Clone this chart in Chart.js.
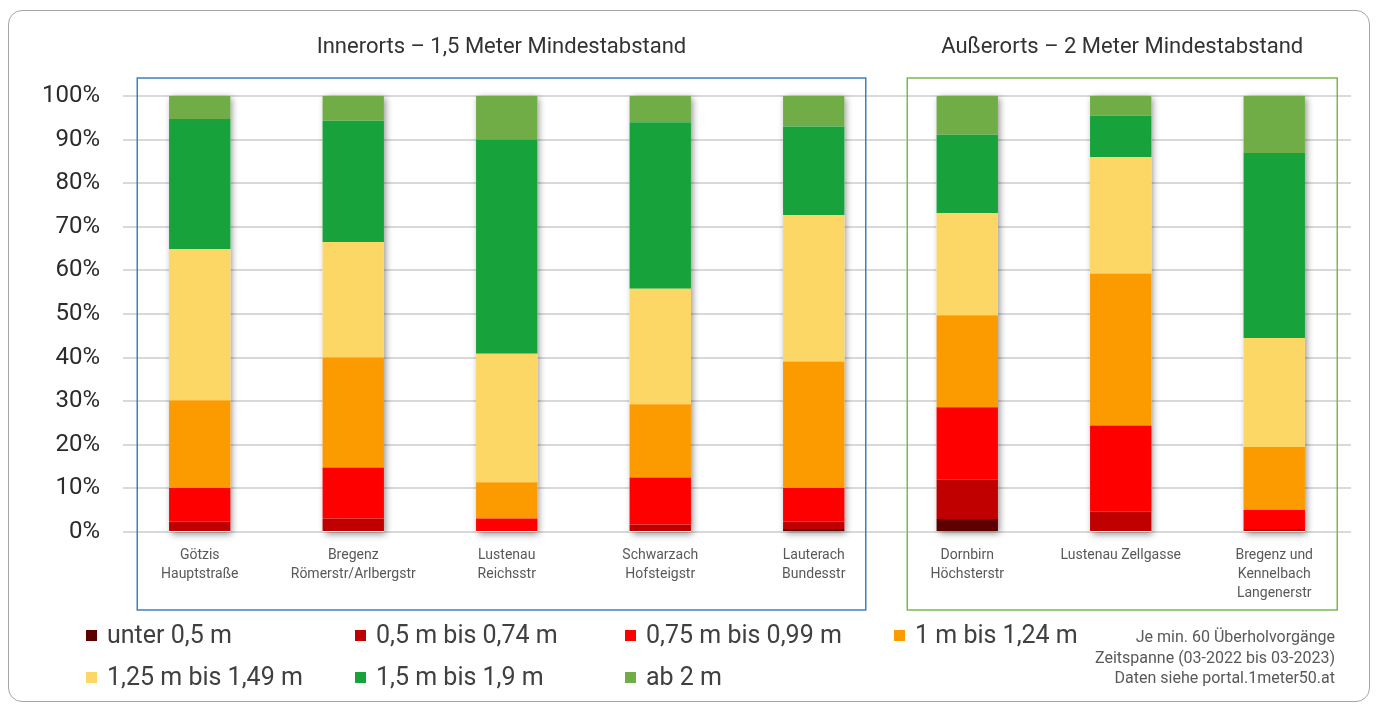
<!DOCTYPE html>
<html>
<head>
<meta charset="utf-8">
<script src="https://cdn.jsdelivr.net/npm/chart.js@4"></script>
<style>
	body { margin:0; background:#fff; font-family:Roboto, sans-serif; }
	#frame { position:absolute; left:8px; top:10px; width:1360px; height:690px; border:1.5px solid #a6a6a6; border-radius:14px; }
	#myCanvas { position:absolute; left:0; top:0; }
	.lg { position:absolute; font-size:25px; color:#404040; white-space:nowrap; line-height:30px; }
	.lg span { display:inline-block; width:11px; height:11px; margin-right:10px; vertical-align:2px; }
	#note { position:absolute; right:43px; top:627px; font-size:16px; line-height:20.5px; color:#595959; text-align:right; }
</style>
</head>
<body>
<div id="frame"></div>
<canvas id="myCanvas" width="1378" height="705"></canvas>
<div id="legend"></div>
<div id="note">Je min. 60 Überholvorgänge<br>Zeitspanne (03-2022 bis 03-2023)<br>Daten siehe portal.1meter50.at</div>
<script>
// Orte (Kategorien)
var places = [
	['Götzis', 'Hauptstraße'],
	['Bregenz', 'Römerstr/Arlbergstr'],
	['Lustenau', 'Reichsstr'],
	['Schwarzach', 'Hofsteigstr'],
	['Lauterach', 'Bundesstr'],
	['Dornbirn', 'Höchsterstr'],
	['Lustenau Zellgasse'],
	['Bregenz und', 'Kennelbach', 'Langenerstr']
];
var groupTitles = ['Innerorts – 1,5 Meter Mindestabstand', 'Außerorts – 2 Meter Mindestabstand'];
var groupFirst = [0, 5];
var groupLast = [4, 7];

// Anteile in Prozent je Abstandsklasse
var seriesNames = ['unter 0,5 m', '0,5 m bis 0,74 m', '0,75 m bis 0,99 m', '1 m bis 1,24 m', '1,25 m bis 1,49 m', '1,5 m bis 1,9 m', 'ab 2 m'];
var unter05   = [0,    0,    0,    0,    0.7,  3.0,  0,    0];
var bis074    = [2.4,  3.1,  0,    1.7,  1.7,  9.0,  4.7,  0.7];
var bis099    = [7.7,  11.7, 3.1,  10.8, 7.7,  16.6, 19.7, 4.4];
var bis124    = [20.1, 25.3, 8.3,  16.8, 29.0, 21.1, 34.9, 14.4];
var bis149    = [34.7, 26.4, 29.5, 26.5, 33.6, 23.4, 26.7, 25.0];
var bis19     = [29.8, 27.8, 49.2, 38.2, 20.3, 18.0, 9.5,  42.4];
var ab2       = [5.3,  5.7,  9.9,  6.0,  7.0,  8.9,  4.5,  13.1];
var yTicks = [0, 10, 20, 30, 40, 50, 60, 70, 80, 90, 100];

var colors = ['#5f0000', '#c00000', '#ff0000', '#fb9b00', '#fdd766', '#17a23b', '#70ad47'];
var allSeries = [unter05, bis074, bis099, bis124, bis149, bis19, ab2];

var datasets = [];
for (var i = 0; i < allSeries.length; i++) {
	datasets.push({
		label: seriesNames[i],
		data: allSeries[i],
		backgroundColor: colors[i],
		borderWidth: 0,
		barPercentage: 0.4,
		categoryPercentage: 1
	});
}

// Schatten hinter jeder Säule
var barShadow = {
	id: 'barShadow',
	beforeDatasetsDraw: function(chart) {
		var ctx = chart.ctx;
		var first = chart.getDatasetMeta(0).data;
		var last = chart.getDatasetMeta(datasets.length - 1).data;
		ctx.save();
		ctx.shadowColor = 'rgba(0,0,0,0.45)';
		ctx.shadowBlur = 7;
		ctx.shadowOffsetX = 2;
		ctx.shadowOffsetY = 2;
		ctx.fillStyle = '#ffffff';
		for (var j = 0; j < first.length; j++) {
			var w = last[j].width;
			ctx.fillRect(last[j].x - w / 2, last[j].y, w, first[j].base - last[j].y);
		}
		ctx.restore();
	}
};

// Rahmen und Überschriften der beiden Gruppen
var groupBoxes = {
	id: 'groupBoxes',
	afterDraw: function(chart) {
		var ctx = chart.ctx;
		var x = chart.scales.x;
		var boxColors = ['#3d7fc0', '#79b94f'];
		var padL = [62.5, 60];
		var padR = [52, 63];
		ctx.save();
		for (var g = 0; g < groupTitles.length; g++) {
			var l = x.getPixelForValue(groupFirst[g]) - padL[g];
			var r = x.getPixelForValue(groupLast[g]) + padR[g];
			ctx.strokeStyle = boxColors[g];
			ctx.lineWidth = 1.5;
			ctx.strokeRect(l, 78, r - l, 532);
			ctx.fillStyle = '#333333';
			ctx.font = '22px Roboto';
			ctx.textAlign = 'center';
			ctx.textBaseline = 'middle';
			ctx.fillText(groupTitles[g], (l + r) / 2, 47);
		}
		ctx.restore();
	}
};

var ctx = document.getElementById('myCanvas').getContext('2d');
var myChart = new Chart(ctx, {
	type: 'bar',
	data: { labels: places, datasets: datasets },
	options: {
		responsive: false,
		animation: false,
		devicePixelRatio: 1,
		layout: { padding: { top: 96, right: 27, left: 0, bottom: 0 } },
		scales: {
			x: {
				stacked: true,
				grid: { display: false },
				border: { display: false },
				afterFit: function(s) { s.height = 173; },
				ticks: {
					color: '#595959',
					font: { family: 'Roboto', size: 14, lineHeight: 1.35 },
					padding: 6,
					maxRotation: 0,
					autoSkip: false
				}
			},
			y: {
				stacked: true,
				min: 0,
				max: 100,
				afterFit: function(s) { s.width = 123; },
				afterBuildTicks: function(s) { s.ticks = yTicks.map(function(v) { return { value: v }; }); },
				grid: { color: '#d9d9d9', lineWidth: 2, drawTicks: false },
				border: { display: false },
				ticks: {
					color: '#2b2b2b',
					font: { family: 'Roboto', size: 24 },
					padding: 23,
					callback: function(v) { return v + '%'; }
				}
			}
		},
		plugins: {
			legend: { display: false },
			tooltip: { enabled: false }
		}
	},
	plugins: [barShadow, groupBoxes]
});

// Legende
var legendPos = [[86, 620], [355, 620], [625, 620], [894, 620], [86, 662], [355, 662], [625, 662]];
var legend = document.getElementById('legend');
for (var k = 0; k < datasets.length; k++) {
	var item = document.createElement('div');
	item.className = 'lg';
	item.style.left = legendPos[k][0] + 'px';
	item.style.top = legendPos[k][1] + 'px';
	item.innerHTML = '<span style="background:' + datasets[k].backgroundColor + '"></span>' + datasets[k].label;
	legend.appendChild(item);
}
</script>
</body>
</html>
